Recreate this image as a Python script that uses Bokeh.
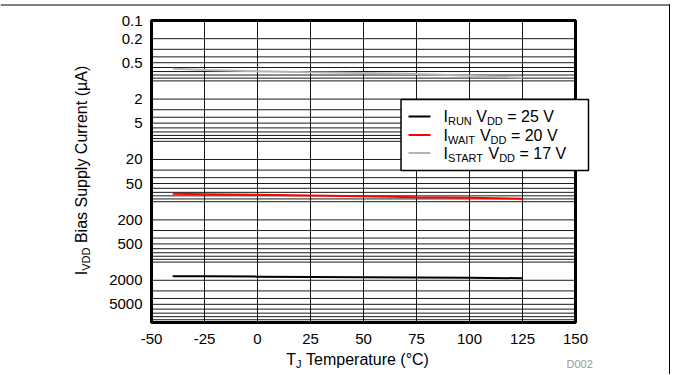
import math
from bokeh.plotting import figure
from bokeh.models import Range1d, LogScale, Label, BoxAnnotation
from bokeh.embed import file_html
from bokeh.resources import INLINE

# ---- data ----
temps = [-40, -25, 0, 25, 50, 75, 100, 125]
i_run = [1710, 1720, 1740, 1760, 1780, 1800, 1820, 1850]
i_wait = [74, 75, 77, 79, 81, 84, 86, 89]
i_start = [0.63, 0.66, 0.69, 0.72, 0.74, 0.77, 0.82, 0.89]

x_ticks = [-50, -25, 0, 25, 50, 75, 100, 125, 150]
x_labels = ["-50", "-25", "0", "25", "50", "75", "100", "125", "150"]
y_ticks = [0.1, 0.2, 0.5, 2, 5, 20, 50, 200, 500, 2000, 5000]
y_labels = ["0.1", "0.2", "0.5", "2", "5", "20", "50", "200", "500", "2000", "5000"]
y_grid = [m * 10.0 ** e for e in range(-1, 4) for m in range(1, 10)] + [10000]
x_lim = [-50, 150]
y_lim = [0.1, 10000]

legend_subs = ["RUN", "WAIT", "START"]
legend_vdd = [25, 20, 17]
legend_colors = ["black", "#FF0000", "#B4B4B4"]

FONT = "Liberation Sans"
MID = 0.35  # cap-centre above baseline, in em

# ---- page geometry (px) ----
W, H = 670, 374
PL, PT, PR, PB = 151, 20, 575, 322          # plot box on the page
KX = (PR - PL) / (x_lim[1] - x_lim[0])
KY = (PB - PT) / (math.log10(y_lim[1]) - math.log10(y_lim[0]))

def tx(px):
    return x_lim[0] + (px - PL) / KX

def iy(py):
    return 10 ** (math.log10(y_lim[0]) + (py - PT) / KY)

CW = {' ': 278, '(': 333, ')': 333, '.': 278, '=': 584, '-': 333, '°': 400, 'µ': 576,
      'A': 667, 'B': 667, 'C': 722, 'D': 722, 'E': 667, 'I': 278, 'J': 500, 'N': 722,
      'R': 722, 'S': 667, 'T': 611, 'U': 722, 'V': 667, 'W': 944,
      'a': 556, 'e': 556, 'i': 222, 'l': 222, 'm': 833, 'n': 556, 'p': 556, 'r': 333,
      's': 500, 't': 278, 'u': 556, 'y': 500, 'c': 500}

def tw(s, size):
    return sum(CW.get(c, 556) for c in s) * size / 1000.0

def seg_width(segs, size, sub):
    return sum(tw(t, sub if s else size) for t, s in segs)

p = figure(width=W, height=H, x_range=Range1d(0, W), y_range=Range1d(H, 0),
           output_backend="svg", toolbar_location=None, min_border=0,
           x_axis_location=None, y_axis_location=None)
p.xgrid.visible = False
p.ygrid.visible = False
p.outline_line_color = None
p.background_fill_color = "white"
p.border_fill_color = "white"

# scales of the chart itself (temperature, log current)
p.extra_x_ranges = {"t": Range1d(tx(0), tx(W))}
p.extra_y_ranges = {"i": Range1d(iy(H), iy(0))}
p.extra_y_scales = {"i": LogScale()}

# grid
p.segment(x0=x_ticks, x1=x_ticks, y0=[y_lim[0]] * len(x_ticks), y1=[y_lim[1]] * len(x_ticks),
          x_range_name="t", y_range_name="i", line_color="black", line_width=1, line_alpha=0.9)
p.segment(x0=[x_lim[0]] * len(y_grid), x1=[x_lim[1]] * len(y_grid), y0=y_grid, y1=y_grid,
          x_range_name="t", y_range_name="i", line_color="black", line_width=1, line_alpha=0.9)

# series
p.line(temps, i_start, x_range_name="t", y_range_name="i", line_color=legend_colors[2], line_width=2)
p.line(temps, i_wait, x_range_name="t", y_range_name="i", line_color=legend_colors[1], line_width=2)
p.line(temps, i_run, x_range_name="t", y_range_name="i", line_color=legend_colors[0], line_width=2)

# plot box border
p.add_layout(BoxAnnotation(left=PL, right=PR, top=PT, bottom=PB, fill_alpha=0,
                           line_color="black", line_alpha=1, line_width=3))

# tick labels
for t, lab in zip(x_ticks, x_labels):
    p.add_layout(Label(x=t, y=344 - MID * 15, x_range_name="t", text=lab, text_font=FONT,
                       text_font_size="15px", text_color="black",
                       text_align="center", text_baseline="middle"))
for v, lab in zip(y_ticks, y_labels):
    p.add_layout(Label(x=PL - 9, y=v, y_range_name="i", text=lab, text_font=FONT,
                       text_font_size="15px", text_color="black",
                       text_align="right", text_baseline="middle"))

def compose(segs, x0, y0, size, sub, drop, angle=0.0, color="black"):
    """Place text pieces (normal / subscript) one after another along a baseline."""
    pos = 0.0
    for t, is_sub in segs:
        fs = sub if is_sub else size
        lead = len(t) - len(t.lstrip(' '))
        pos += lead * CW[' '] * fs / 1000.0
        t2 = t.lstrip(' ')
        d = (drop if is_sub else 0) - MID * fs
        if angle == 0:
            cx, cy = x0 + pos, y0 + d
        else:
            cx, cy = x0 + d, y0 - pos
        p.add_layout(Label(x=cx, y=cy, text=t2, text_font=FONT,
                           text_font_size=f"{fs}px", text_color=color,
                           text_baseline="middle", text_align="left",
                           angle=angle))
        pos += tw(t2, fs)

# legend
p.add_layout(BoxAnnotation(left=400.5, right=588, top=99, bottom=170,
                           fill_color="white", fill_alpha=1, line_color="black",
                           line_alpha=1, line_width=1.5))
rows = [122, 140.5, 158.5]
for k in range(3):
    base = rows[k]
    p.add_layout(BoxAnnotation(left=408, right=430, top=base - 7, bottom=base - 5,
                               fill_color=legend_colors[k], fill_alpha=1, line_color=None))
    segs = [("I", False), (legend_subs[k], True), (" V", False), ("DD", True),
            (f" = {legend_vdd[k]} V", False)]
    compose(segs, 443, base, 16, 11, 2.5)

# axis titles
xt = [("T", False), ("J", True), (" Temperature (°C)", False)]
wx = seg_width(xt, 16, 11)
compose(xt, 358 - wx / 2, 365, 16, 11, 2.5)

yt = [("I", False), ("VDD", True), (" Bias Supply Current (µA)", False)]
wy = seg_width(yt, 16, 11)
compose(yt, 87, 170 + wy / 2, 16, 11, 2.5, angle=math.pi / 2)

# figure id
p.add_layout(Label(x=566, y=367 - MID * 11, text="D002", text_font=FONT, text_font_size="11px",
                   text_color="#999999", text_baseline="middle", text_align="left"))

# outer frame (top and right edges)
p.add_layout(BoxAnnotation(left=0, right=669.5, top=4, bottom=5, fill_color="black",
                           fill_alpha=1, line_color=None))
p.add_layout(BoxAnnotation(left=668.5, right=669.5, top=4, bottom=H, fill_color="black",
                           fill_alpha=1, line_color=None))

open("out.html", "w").write(file_html(p, INLINE))
